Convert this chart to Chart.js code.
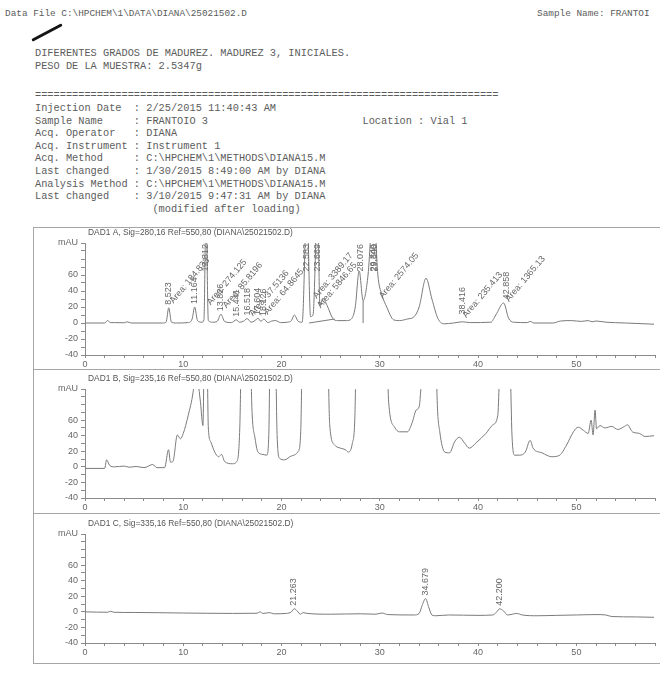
<!DOCTYPE html>
<html>
<head>
<meta charset="utf-8">
<script src="https://cdn.jsdelivr.net/npm/chart.js@4.4.1/dist/chart.umd.min.js"></script>
<style>
  body { margin:0; background:#fff; width:662px; height:674px; overflow:hidden; position:relative; }
  .t { position:absolute; font-family:"Liberation Mono", monospace; color:#5c5c5c; white-space:pre; font-size:10.3px; line-height:12.6px; }
  .rule { position:absolute; background:#a6a6a6; }
  canvas { position:absolute; left:33px; }
  #pen { position:absolute; left:30px; top:31px; width:34px; height:3px; background:#151515; border-radius:2px; transform:rotate(-28deg); }
</style>
</head>
<body>
<div class="t" style="left:5px;top:8px;font-size:9.4px">Data File C:\HPCHEM\1\DATA\DIANA\25021502.D</div>
<div class="t" style="left:537px;top:8px;font-size:9.4px">Sample Name: FRANTOI</div>
<div id="pen"></div>
<div class="t" style="left:35px;top:47px">DIFERENTES GRADOS DE MADUREZ. MADUREZ 3, INICIALES.
PESO DE LA MUESTRA: 2.5347g</div>
<div class="t" style="left:35px;top:89px">===========================================================================</div>
<div class="t" style="left:35px;top:102px">Injection Date  : 2/25/2015 11:40:43 AM
Sample Name     : FRANTOIO 3                         Location : Vial 1
Acq. Operator   : DIANA
Acq. Instrument : Instrument 1
Acq. Method     : C:\HPCHEM\1\METHODS\DIANA15.M
Last changed    : 1/30/2015 8:49:00 AM by DIANA
Analysis Method : C:\HPCHEM\1\METHODS\DIANA15.M
Last changed    : 3/10/2015 9:47:31 AM by DIANA
                   (modified after loading)</div>

<div class="rule" style="left:33px;top:227px;width:627px;height:1px"></div>
<div class="rule" style="left:33px;top:369px;width:627px;height:1px"></div>
<div class="rule" style="left:33px;top:513px;width:627px;height:1px"></div>
<div class="rule" style="left:33px;top:663px;width:627px;height:1px"></div>
<div class="rule" style="left:33px;top:227px;width:1px;height:437px"></div>

<canvas id="dadA" width="629" height="143" style="top:226px"></canvas>
<canvas id="dadB" width="629" height="144" style="top:369px"></canvas>
<canvas id="dadC" width="629" height="150" style="top:513px"></canvas>

<script>
// DAD1 A, 280 nm
const timesA = [0, 2.0, 2.3, 2.6, 3.0, 4.0, 4.3, 4.7, 6.5, 7.9, 8.25, 8.52, 8.8, 9.3, 10.5, 10.9, 11.16, 11.45, 11.9, 12.1,
  12.31, 12.55, 13.0, 13.45, 13.83, 14.2, 14.9, 15.4, 15.7, 16.1, 16.5, 16.9, 17.3, 17.6, 17.9, 18.2, 18.6, 19.0, 19.4, 19.9,
  20.6, 21.0, 21.3, 21.7, 22.1, 22.58, 22.95, 23.2, 23.67, 23.9, 24.2, 24.7, 25.2, 25.7, 26.6, 27.1, 27.5, 27.9, 28.3, 28.8,
  29.35, 29.8, 30.2, 30.7, 31.4, 32.0, 32.8, 33.5, 34.0, 34.7, 35.3, 35.9, 36.5, 37.5, 38.4, 39.2, 41.3, 41.8, 42.6, 43.1,
  43.6, 45.0, 45.3, 45.7, 47.6, 48.4, 49.5, 50.5, 51.2, 51.6, 52.0, 53.0, 55.0, 57.9];
const valuesA = [0, 0, 3, 0.5, 0.5, 0.3, 1.5, 0, 0, 0, 1, 19, 1, 0, 0.5, 5, 20, 3, 1, 4,
  140, 3, 1, 2, 11, 2, 0.5, 4, 1, 2, 5.5, 1, 3, 6, 2, 5, 0.5, 2.5, 3, 0.5,
  1, 3, 10, 2, 1, 150, 8, 10, 150, 22, 31, 20, 6, 3, 3, 5, 20, 65, 28, 60,
  150, 60, 36, 20, 4, 3, 5, 8, 20, 56, 30, 6, -1, 0, 1.5, 0.5, 1, 10, 25, 6,
  1, 0.5, 2, 0, 0, 2.5, 3, 2, 3, 1.5, 2.5, 1, 0, -1.5];
// integration baseline / drop line drawn by the integrator
const baseTimesA = [22.8, 25.4, 25.5, 28.3, 28.3];
const baseValuesA = [0, 5, null, 0, 28];
const peakTimesA = [8.523, 11.164, 12.312, 13.826, 15.441, 16.518, 17.604, 18.126, 22.583, 23.669, 28.076, 29.349, 29.500, 38.416, 42.858];
const peakHeightsA = [19, 20, 140, 11, 4, 5.5, 6, 5, 150, 150, 65, 150, 150, 7, 26];
const areaTimesA = [8.8, 12.6, 14.2, 16.9, 18.4, 23.4, 23.8, 30.1, 38.6, 42.95];
const areaHeightsA = [26, 24, 20, 10, 12, 32, 20, 32, 8, 28];
const areaValuesA = [184.833, 274.125, 85.8196, 37.5136, 64.8645, 3389.17, 5846.65, 2574.05, 235.413, 1365.13];

// DAD1 B, 235 nm
const timesB = [0, 2.0, 2.2, 2.5, 3.0, 4.0, 4.5, 5.2, 6.0, 6.9, 7.3, 8.1, 8.5, 8.7, 8.95, 9.4, 9.7, 10.0, 10.5, 11.0,
  11.3, 11.5, 11.75, 12.0, 12.15, 12.4, 12.55, 12.8, 13.2, 13.6, 13.9, 14.2, 15.0, 15.5, 15.75, 16.0, 16.7, 17.0, 17.3, 17.6,
  18.1, 18.5, 18.7, 18.9, 19.3, 19.55, 19.8, 20.3, 21.0, 21.7, 21.95, 22.2, 24.6, 24.9, 25.4, 26.0, 26.5, 26.8, 27.2, 27.45,
  27.7, 30.6, 30.9, 31.5, 32.0, 32.8, 33.3, 33.7, 34.0, 34.3, 35.6, 35.85, 36.1, 36.6, 37.1, 37.6, 38.1, 38.6, 39.1, 39.8,
  40.8, 41.5, 42.0, 42.3, 43.2, 43.45, 43.7, 44.2, 44.8, 45.3, 45.6, 46.5, 47.5, 48.3, 49.0, 49.7, 50.2, 50.7, 51.2, 51.5,
  51.7, 51.9, 52.05, 52.4, 52.9, 53.6, 54.2, 54.9, 55.2, 55.7, 56.4, 57.0, 57.9];
const valuesB = [-2, -2, 9, 2, 0, 1, -0.5, 0.5, -1, 3, -1, -1, 22, 6, 7, 41, 36, 43, 66, 96,
  130, 110, 83, 53, 150, 150, 50, 32, 19, 13, 16, 7, 4, 8, 50, 200, 200, 70, 37, 19,
  16, 15, 40, 200, 200, 40, 11, 9, 14, 20, 45, 200, 200, 54, 28, 24, 22, 19, 30, 60,
  200, 200, 83, 51, 45, 45, 57, 73, 77, 120, 200, 80, 45, 19, 18, 32, 38, 31, 24, 31,
  43, 54, 66, 150, 150, 40, 15, 15, 19, 34, 24, 18, 13, 15, 28, 45, 51, 47, 43, 60,
  41, 73, 49, 53, 50, 52, 48, 52, 54, 45, 43, 39, 40];

// DAD1 C, 335 nm
const timesC = [0, 2.3, 2.6, 2.9, 5.0, 10.0, 15.0, 17.5, 17.8, 18.1, 18.8, 19.2, 20.5, 21.0, 21.3, 21.6, 21.9, 22.2, 22.6, 25.0,
  28.0, 29.6, 30.2, 30.8, 33.5, 34.0, 34.3, 34.65, 35.0, 35.3, 35.7, 37.0, 40.0, 41.5, 41.9, 42.2, 42.6, 43.0, 43.5, 43.9,
  44.5, 46.0, 48.0, 50.0, 52.0, 53.0, 53.6, 56.0, 57.9];
const valuesC = [0, -0.5, 0.8, -0.5, -0.8, -1.5, -2, -1.8, 0, -2, -1, -2.5, -2, 0, 4, 1, -3, -1, -2, -3,
  -2.5, -3, -1.5, -3.5, -4, -2, 8, 17, 5, -4, -5, -4, -4.5, -4, 0, 4, 1, -4, -3, -2,
  -4, -5, -4.5, -4, -3.5, -4, -6, -6.5, -7];
const peakTimesC = [21.263, 34.679, 42.200];
const peakHeightsC = [4, 17, 4];

const yTicks = v => v === 100 ? 'mAU' : (v % 20 === 0 && v !== 80 ? v : '');
const xTicks = v => v % 10 === 0 ? v : '';
const sans = '"Liberation Sans", Arial, sans-serif';

const panelText = {
  id: 'panelText',
  afterDraw(chart, args, o) {
    const { ctx, chartArea, scales: { x, y } } = chart;
    ctx.save();
    ctx.fillStyle = '#555';
    ctx.font = '8.4px ' + sans;
    ctx.textBaseline = 'middle';
    ctx.fillText(o.title, chartArea.left + 3, chartArea.top - 10);

    ctx.font = '9px ' + sans;
    ctx.fillStyle = '#666';
    (o.peaks || []).forEach((t, i) => {
      const txt = t.toFixed(3);
      const w = ctx.measureText(txt).width;
      let bottom = y.getPixelForValue(o.heights[i]) - 3;
      if (bottom - w < chartArea.top + 1) bottom = chartArea.top + 1 + w;
      ctx.save();
      ctx.translate(x.getPixelForValue(t), bottom);
      ctx.rotate(-Math.PI / 2);
      ctx.fillText(txt, 0, 0);
      ctx.restore();
    });
    (o.areas || []).forEach((t, i) => {
      ctx.save();
      ctx.translate(x.getPixelForValue(t), y.getPixelForValue(o.areaHeights[i]));
      ctx.rotate(-50 * Math.PI / 180);
      ctx.fillText('Area: ' + o.areaValues[i], 0, 0);
      ctx.restore();
    });
    ctx.restore();
  }
};

function drawPanel(id, times, values, padTop, axisH, extra, base) {
  const datasets = [{
    data: times.map((t, i) => ({ x: t, y: values[i] })),
    borderColor: '#7a7a7a', borderWidth: 1, pointRadius: 0,
    cubicInterpolationMode: 'monotone', fill: false
  }];
  if (base) {
    datasets.push({
      data: base[0].map((t, i) => ({ x: t, y: base[1][i] })),
      borderColor: '#7a7a7a', borderWidth: 1, pointRadius: 0, tension: 0, fill: false
    });
  }
  new Chart(document.getElementById(id), {
    type: 'line',
    data: { datasets },
    options: {
      responsive: false,
      animation: false,
      events: [],
      layout: { padding: { top: padTop, right: 7, left: 0, bottom: 0 } },
      plugins: { legend: { display: false }, tooltip: { enabled: false }, panelText: extra },
      scales: {
        x: {
          type: 'linear', min: 0, max: 58,
          afterFit: s => { s.height = axisH; },
          ticks: { stepSize: 2, autoSkip: false, maxRotation: 0, padding: 1, color: '#666',
                   font: { size: 9, family: sans }, callback: xTicks },
          grid: { drawOnChartArea: false, tickLength: 3, tickColor: '#8a8a8a' },
          border: { color: '#8a8a8a' }
        },
        y: {
          min: -40, max: 100,
          afterFit: s => { s.width = 52; },
          ticks: { stepSize: 10, autoSkip: false, padding: 3, color: '#666',
                   font: { size: 9, family: sans }, callback: yTicks },
          grid: { drawOnChartArea: false, tickLength: 4, tickColor: '#8a8a8a' },
          border: { color: '#8a8a8a' }
        }
      }
    },
    plugins: [panelText]
  });
}

drawPanel('dadA', timesA, valuesA, 17, 14, {
  title: 'DAD1 A, Sig=280,16 Ref=550,80 (DIANA\\25021502.D)',
  peaks: peakTimesA, heights: peakHeightsA,
  areas: areaTimesA, areaHeights: areaHeightsA, areaValues: areaValuesA
}, [baseTimesA, baseValuesA]);

drawPanel('dadB', timesB, valuesB, 20, 15, {
  title: 'DAD1 B, Sig=235,16 Ref=550,80 (DIANA\\25021502.D)'
});

drawPanel('dadC', timesC, valuesC, 21, 20, {
  title: 'DAD1 C, Sig=335,16 Ref=550,80 (DIANA\\25021502.D)',
  peaks: peakTimesC, heights: peakHeightsC
});
</script>
</body>
</html>
